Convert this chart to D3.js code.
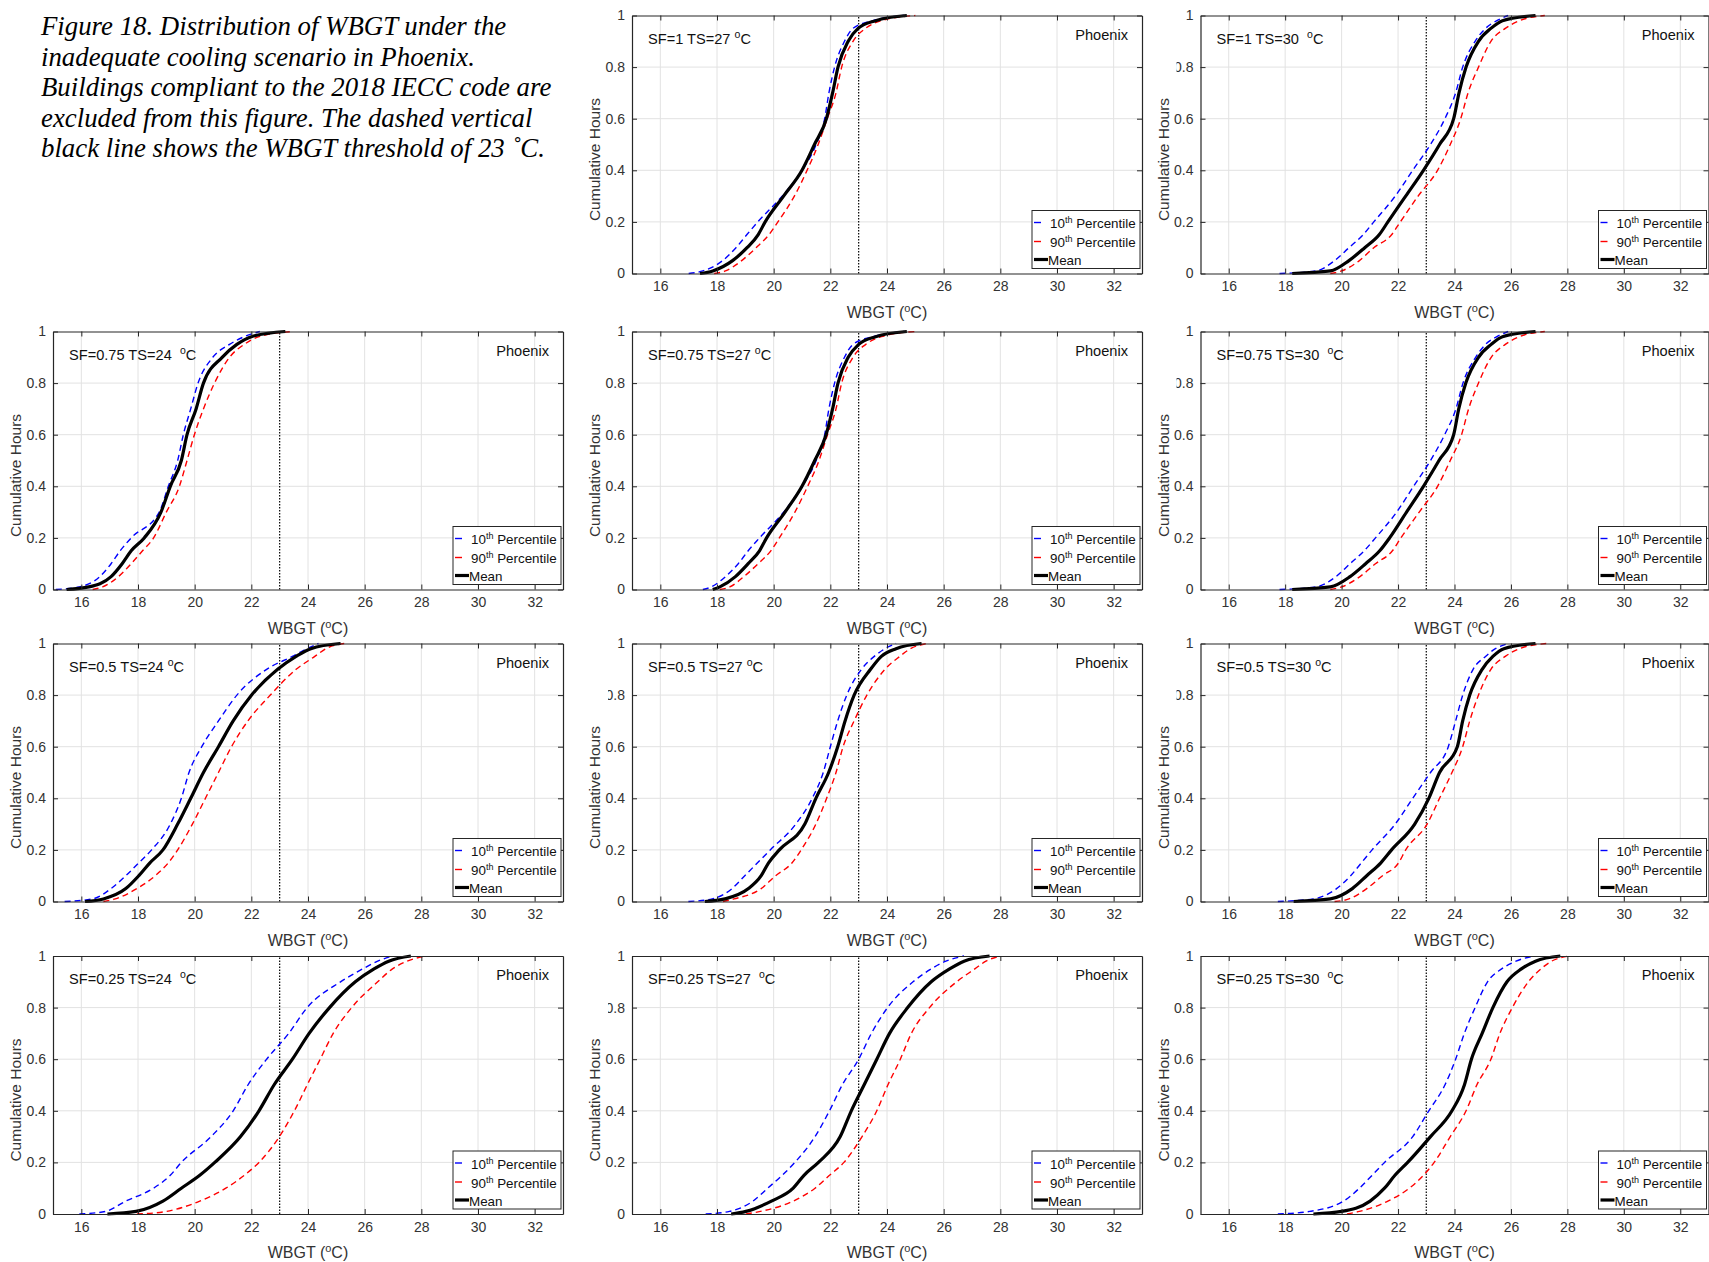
<!DOCTYPE html>
<html><head><meta charset="utf-8">
<script src="https://cdn.jsdelivr.net/npm/d3@7"></script>
<style>
html,body{margin:0;padding:0;background:#fff;}
svg{display:block;}
text{font-family:"Liberation Sans",Arial,sans-serif;}
</style></head><body>
<svg id="chart" width="1709" height="1262"></svg>
<script>
// ---------- data ----------
const levels = [0, 0.01, 0.05, 0.1, 0.15, 0.2, 0.3, 0.4, 0.5, 0.6, 0.7, 0.8, 0.9, 0.95, 0.98, 1];
const xTicks = [16, 18, 20, 22, 24, 26, 28, 30, 32];
const yTicks = [0, 0.2, 0.4, 0.6, 0.8, 1];
const yTickLabels = ["0", "0.2", "0.4", "0.6", "0.8", "1"];
const threshold = 23;
const seriesNames = ["10th Percentile", "90th Percentile", "Mean"];
const captionLines = [
  "Figure 18. Distribution of WBGT under the",
  "inadequate cooling scenario in Phoenix.",
  "Buildings compliant to the 2018 IECC code are",
  "excluded from this figure. The dashed vertical",
  "black line shows the WBGT threshold of 23 \u02DAC."
];

// WBGT (°C) reached at each cumulative level
const sf1_ts27_p10  = [17.0,17.5,18.2,18.67,19.05,19.44,20.3,21.0,21.5,21.8,21.95,22.15,22.5,22.8,23.5,24.6];
const sf1_ts27_mean = [17.4,17.85,18.55,19.06,19.45,19.7,20.35,21.0,21.44,21.86,22.08,22.27,22.63,22.98,23.6,24.7];
const sf1_ts27_p90  = [17.9,18.3,18.87,19.38,19.83,20.15,20.73,21.18,21.57,21.89,22.2,22.4,22.8,23.24,23.8,25.0];

const sf1_ts30_p10  = [17.8,19.1,19.75,20.26,20.76,21.14,21.9,22.52,23.15,23.66,24.04,24.29,24.73,25.1,25.5,25.9];
const sf1_ts30_mean = [18.25,19.6,20.26,20.82,21.33,21.64,22.27,22.9,23.47,23.97,24.16,24.41,24.85,25.29,25.7,26.87];
const sf1_ts30_p90  = [19.6,20.0,20.63,21.14,21.77,22.08,22.71,23.4,23.85,24.22,24.48,24.85,25.29,25.8,26.3,27.2];

const sf075_ts24_p10  = [15.1,15.93,16.65,17.05,17.37,17.76,18.75,19.07,19.4,19.6,19.86,20.12,20.64,21.23,21.75,22.3];
const sf075_ts24_mean = [15.48,16.26,17.05,17.44,17.76,18.22,18.81,19.14,19.53,19.73,20.05,20.31,20.97,21.49,22.0,23.2];
const sf075_ts24_p90  = [16.4,16.75,17.31,17.76,18.16,18.55,19.0,19.46,19.73,19.99,20.31,20.7,21.23,21.75,22.27,23.45];

const sf075_ts27_p10  = [17.5,17.8,18.3,18.75,19.1,19.5,20.35,21.0,21.5,21.8,21.95,22.15,22.5,22.8,23.5,24.6];
const sf075_ts27_mean = [17.85,18.1,18.65,19.1,19.5,19.75,20.4,21.0,21.45,21.85,22.08,22.27,22.63,23.0,23.6,24.7];
const sf075_ts27_p90  = [18.1,18.45,18.95,19.45,19.9,20.2,20.75,21.2,21.6,21.9,22.2,22.4,22.8,23.25,23.8,25.0];

const sf075_ts30_p10  = [17.8,19.1,19.8,20.3,20.8,21.2,21.95,22.55,23.15,23.65,24.05,24.3,24.75,25.1,25.5,25.9];
const sf075_ts30_mean = [18.25,19.6,20.3,20.85,21.35,21.7,22.3,22.9,23.45,23.97,24.15,24.4,24.85,25.3,25.7,26.87];
const sf075_ts30_p90  = [19.6,20.0,20.65,21.2,21.8,22.1,22.75,23.4,23.85,24.25,24.5,24.85,25.3,25.8,26.3,27.2];

const sf05_ts24_p10  = [15.41,16.4,17.05,17.57,18.03,18.48,19.14,19.53,19.8,20.25,20.84,21.49,22.54,23.45,23.97,24.37];
const sf05_ts24_mean = [16.13,16.78,17.57,18.03,18.42,18.88,19.4,19.86,20.31,20.84,21.36,22.01,22.93,23.58,24.1,25.15];
const sf05_ts24_p90  = [16.78,17.2,17.96,18.61,19.07,19.4,19.92,20.38,20.84,21.3,21.88,22.67,23.58,24.24,24.63,25.28];

const sf05_ts27_p10  = [16.99,17.83,18.53,18.98,19.43,19.88,20.78,21.36,21.75,22.0,22.26,22.58,23.1,23.55,23.93,24.32];
const sf05_ts27_mean = [17.57,18.28,19.11,19.56,19.82,20.2,21.1,21.49,21.94,22.26,22.52,22.84,23.42,23.8,24.32,25.22];
const sf05_ts27_p90  = [18.21,18.6,19.56,20.07,20.65,20.97,21.49,21.87,22.2,22.45,22.84,23.29,23.93,24.45,24.83,25.41];

const sf05_ts30_p10  = [17.74,19.0,19.82,20.32,20.7,21.08,21.9,22.52,23.15,23.78,24.04,24.29,24.66,25.1,25.45,25.92];
const sf05_ts30_mean = [18.3,19.6,20.38,20.89,21.39,21.77,22.59,23.09,23.47,24.1,24.29,24.54,24.98,25.36,25.75,26.87];
const sf05_ts30_p90  = [19.75,20.26,20.89,21.45,22.02,22.27,23.03,23.47,23.91,24.29,24.54,24.85,25.29,25.8,26.3,27.25];

const sf025_ts24_p10  = [15.93,16.85,17.57,18.55,19.14,19.53,20.58,21.36,21.88,22.54,23.32,23.97,25.15,25.93,26.46,26.98];
const sf025_ts24_mean = [16.92,17.93,18.88,19.53,20.18,20.71,21.62,22.27,22.8,23.45,24.04,24.76,25.67,26.33,26.85,27.63];
const sf025_ts24_p90  = [17.96,19.0,20.18,21.1,21.75,22.27,22.99,23.52,23.97,24.43,24.89,25.54,26.46,26.98,27.5,28.16];

const sf025_ts27_p10  = [17.6,18.44,19.27,19.79,20.3,20.75,21.46,21.97,22.42,23.0,23.45,24.02,24.92,25.56,26.08,26.72];
const sf025_ts27_mean = [18.5,19.02,19.92,20.69,21.07,21.58,22.35,22.74,23.19,23.64,24.09,24.73,25.56,26.21,26.72,27.62];
const sf025_ts27_p90  = [19.02,19.53,20.69,21.46,21.97,22.48,23.12,23.64,24.03,24.47,24.86,25.5,26.46,27.1,27.49,28.0];

const sf025_ts30_p10  = [17.74,18.87,20.07,20.63,21.08,21.52,22.52,23.09,23.66,24.04,24.35,24.73,25.17,25.67,26.18,26.81];
const sf025_ts30_mean = [19.0,20.0,21.01,21.52,21.89,22.34,23.15,23.91,24.35,24.6,24.98,25.36,25.86,26.37,26.87,27.75];
const sf025_ts30_p90  = [20.19,20.63,21.64,22.4,22.9,23.28,23.85,24.41,24.79,25.29,25.61,26.05,26.62,27.06,27.44,28.07];

const panels = [
  {row:0, col:1, label:"SF=1 TS=27 ",     p10:sf1_ts27_p10,   p90:sf1_ts27_p90,   mean:sf1_ts27_mean},
  {row:0, col:2, label:"SF=1 TS=30  ",    p10:sf1_ts30_p10,   p90:sf1_ts30_p90,   mean:sf1_ts30_mean, cut:true},
  {row:1, col:0, label:"SF=0.75 TS=24  ", p10:sf075_ts24_p10, p90:sf075_ts24_p90, mean:sf075_ts24_mean},
  {row:1, col:1, label:"SF=0.75 TS=27 ",  p10:sf075_ts27_p10, p90:sf075_ts27_p90, mean:sf075_ts27_mean},
  {row:1, col:2, label:"SF=0.75 TS=30  ", p10:sf075_ts30_p10, p90:sf075_ts30_p90, mean:sf075_ts30_mean, cut:true},
  {row:2, col:0, label:"SF=0.5 TS=24 ",   p10:sf05_ts24_p10,  p90:sf05_ts24_p90,  mean:sf05_ts24_mean},
  {row:2, col:1, label:"SF=0.5 TS=27 ",   p10:sf05_ts27_p10,  p90:sf05_ts27_p90,  mean:sf05_ts27_mean, cut:true},
  {row:2, col:2, label:"SF=0.5 TS=30 ",   p10:sf05_ts30_p10,  p90:sf05_ts30_p90,  mean:sf05_ts30_mean, cut:true},
  {row:3, col:0, label:"SF=0.25 TS=24  ", p10:sf025_ts24_p10, p90:sf025_ts24_p90, mean:sf025_ts24_mean},
  {row:3, col:1, label:"SF=0.25 TS=27  ", p10:sf025_ts27_p10, p90:sf025_ts27_p90, mean:sf025_ts27_mean, cut:true},
  {row:3, col:2, label:"SF=0.25 TS=30  ", p10:sf025_ts30_p10, p90:sf025_ts30_p90, mean:sf025_ts30_mean}
];

// ---------- layout ----------
const colLeft = [53, 632, 1200.5];
const colW = [510, 510, 508];
const rowTop = [15.5, 331.5, 643.5, 956];
const H = 258;
const axisColor = "#262626";
const textColor = "#333333";

const svg = d3.select("#chart");

// caption
const cap = svg.append("text")
  .attr("x", 41).attr("y", 35)
  .style("font-family", "'Liberation Serif','Times New Roman',serif")
  .style("font-style", "italic")
  .style("font-size", "26.8px")
  .attr("fill", "#000");
captionLines.forEach((t, i) => {
  cap.append("tspan").attr("x", 41).attr("y", 35 + i * 30.6).text(t);
});

panels.forEach((p, idx) => {
  const L = colLeft[p.col], T = rowTop[p.row], W = colW[p.col];
  const g = svg.append("g").attr("transform", `translate(${L},${T})`);
  const x = d3.scaleLinear().domain([15, 33]).range([0, W]);
  const y = d3.scaleLinear().domain([0, 1]).range([H, 0]);

  g.append("rect").attr("width", W).attr("height", H).attr("fill", "#fff");

  // grid
  g.append("g").selectAll("line").data(xTicks).join("line")
    .attr("x1", d => x(d)).attr("x2", d => x(d)).attr("y1", 0).attr("y2", H)
    .attr("stroke", "#e2e2e2").attr("stroke-width", 1);
  g.append("g").selectAll("line").data(yTicks.slice(1, -1)).join("line")
    .attr("x1", 0).attr("x2", W).attr("y1", d => y(d)).attr("y2", d => y(d))
    .attr("stroke", "#e2e2e2").attr("stroke-width", 1);

  const cid = "clip" + idx;
  g.append("clipPath").attr("id", cid).append("rect")
    .attr("x", 0).attr("y", -2).attr("width", W).attr("height", H + 4);

  // threshold
  g.append("line")
    .attr("x1", x(threshold)).attr("x2", x(threshold)).attr("y1", y(0)).attr("y2", y(1))
    .attr("stroke", "#000").attr("stroke-width", 1.2).attr("stroke-dasharray", "1.5,1.5");

  // curves
  const line = d3.line().x(d => x(d[0])).y(d => y(d[1])).curve(d3.curveMonotoneX);
  const curves = g.append("g").attr("clip-path", `url(#${cid})`);
  curves.append("path").datum(d3.zip(p.p10, levels)).attr("d", line)
    .attr("fill", "none").attr("stroke", "#0000ff").attr("stroke-width", 1.4).attr("stroke-dasharray", "6,4");
  curves.append("path").datum(d3.zip(p.p90, levels)).attr("d", line)
    .attr("fill", "none").attr("stroke", "#ff0000").attr("stroke-width", 1.4).attr("stroke-dasharray", "6,4");
  curves.append("path").datum(d3.zip(p.mean, levels)).attr("d", line)
    .attr("fill", "none").attr("stroke", "#000").attr("stroke-width", 3.2);

  // axes (inward ticks, box)
  const styleAxis = sel => {
    sel.select(".domain").attr("stroke", axisColor).attr("stroke-width", 1.2);
    sel.selectAll(".tick line").attr("stroke", axisColor).attr("stroke-width", 1);
    sel.selectAll(".tick text").attr("fill", textColor)
      .style("font-family", "'Liberation Sans',Arial,sans-serif").style("font-size", "14px");
  };
  g.append("g").attr("transform", `translate(0,${H})`)
    .call(d3.axisBottom(x).tickValues(xTicks).tickSizeInner(-5).tickSizeOuter(0).tickPadding(8))
    .call(styleAxis);
  g.append("g")
    .call(d3.axisTop(x).tickValues(xTicks).tickSizeInner(-5).tickSizeOuter(0).tickFormat(""))
    .call(styleAxis);
  g.append("g")
    .call(d3.axisLeft(y).tickValues(yTicks).tickSizeInner(-5).tickSizeOuter(0).tickPadding(7)
      .tickFormat((d, i) => yTickLabels[i]))
    .call(styleAxis);
  g.append("g").attr("transform", `translate(${W},0)`)
    .call(d3.axisRight(y).tickValues(yTicks).tickSizeInner(-5).tickSizeOuter(0).tickFormat(""))
    .call(styleAxis);

  if (p.cut) {
    g.append("rect").attr("x", -42).attr("y", y(0.8) - 9).attr("width", 18).attr("height", 18).attr("fill", "#fff");
  }

  // axis titles
  const xl = g.append("text").attr("x", W / 2).attr("y", H + 44).attr("text-anchor", "middle")
    .attr("fill", textColor).style("font-size", "16px");
  xl.append("tspan").text("WBGT (");
  xl.append("tspan").attr("dy", -6).style("font-size", "11px").text("o");
  xl.append("tspan").attr("dy", 6).text("C)");

  g.append("text").attr("transform", `translate(-37,${H / 2 + 15}) rotate(-90)`)
    .attr("text-anchor", "middle").attr("dy", "0.35em")
    .attr("fill", textColor).style("font-size", "15.5px").text("Cumulative Hours");

  // panel texts
  const lt = g.append("text").attr("x", 16).attr("y", 28).attr("fill", "#111")
    .style("font-size", "14.6px").style("white-space", "pre");
  lt.append("tspan").text(p.label);
  lt.append("tspan").attr("dy", -6).style("font-size", "10.5px").text("o");
  lt.append("tspan").attr("dy", 6).text("C");

  g.append("text").attr("x", W - 14).attr("y", 24).attr("text-anchor", "end")
    .attr("fill", "#111").style("font-size", "14.6px").text("Phoenix");

  // legend
  const lg = g.append("g").attr("transform", `translate(${W - 110},${H - 63})`);
  lg.append("rect").attr("width", 108).attr("height", 58).attr("fill", "#fff")
    .attr("stroke", axisColor).attr("stroke-width", 1);
  const lcolors = ["#0000ff", "#ff0000", "#000"];
  const lys = [13, 32, 50];
  seriesNames.forEach((name, i) => {
    const isMean = i === 2;
    lg.append("line").attr("x1", 2).attr("x2", isMean ? 16 : 9).attr("y1", lys[i] - 1).attr("y2", lys[i] - 1)
      .attr("stroke", lcolors[i]).attr("stroke-width", isMean ? 3.2 : 1.4);
    const t = lg.append("text").attr("x", isMean ? 16 : 18).attr("y", lys[i] + 4.5)
      .attr("fill", "#111").style("font-size", "13.4px");
    if (isMean) {
      t.text(name);
    } else {
      const parts = name.split(" ");
      const num = parts[0].replace("th", "");
      t.append("tspan").text(num);
      t.append("tspan").attr("dy", -5).style("font-size", "9px").text("th");
      t.append("tspan").attr("dy", 5).text(" " + parts.slice(1).join(" "));
    }
  });
});
</script></body></html>
